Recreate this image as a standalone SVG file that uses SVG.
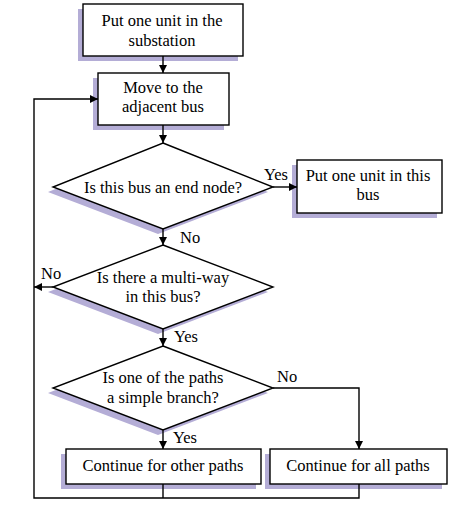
<svg xmlns="http://www.w3.org/2000/svg" width="474" height="521" viewBox="0 0 474 521">
<style>
.box{fill:#fff;stroke:#000;stroke-width:1.4}
.sh{fill:#b4add6}
text{font-family:'Liberation Serif','Times New Roman',Times,serif;font-size:16.5px;fill:#000}
.t{text-anchor:middle}
.c{fill:none;stroke:#000;stroke-width:1.4}
</style>
<defs>
<marker id="ah" viewBox="0 0 10 10" refX="10" refY="5" markerWidth="8" markerHeight="8" markerUnits="userSpaceOnUse" orient="auto">
<path d="M0,0 L10,5 L0,10 z" fill="#000"/>
</marker>
</defs>
<rect width="474" height="521" fill="#fff"/>
<g id="n1">
<rect class="sh" x="78" y="9" width="160" height="52"/>
<rect class="box" x="83" y="4" width="160" height="52"/>
<text class="t" x="162" y="26">Put one unit in the</text>
<text class="t" x="162" y="46">substation</text>
</g>
<g id="n2">
<rect class="sh" x="93" y="78" width="131" height="52"/>
<rect class="box" x="98" y="73" width="131" height="52"/>
<text class="t" x="163" y="93">Move to the</text>
<text class="t" x="163" y="112">adjacent bus</text>
</g>
<g id="d1">
<polygon class="sh" points="158,148 268,192 158,234 48,192"/>
<polygon class="box" points="163,143 273,187 163,229 53,187"/>
<text class="t" x="163" y="193">Is this bus an end node?</text>
</g>
<g id="n3">
<rect class="sh" x="292" y="165" width="145" height="53"/>
<rect class="box" x="297" y="160" width="145" height="53"/>
<text class="t" x="368" y="181">Put one unit in this</text>
<text class="t" x="368" y="200">bus</text>
</g>
<g id="d2">
<polygon class="sh" points="158,250 268,292 158,334 48,292"/>
<polygon class="box" points="163,245 273,287 163,329 53,287"/>
<text class="t" x="163" y="283">Is there a multi-way</text>
<text class="t" x="163" y="302">in this bus?</text>
</g>
<g id="d3">
<polygon class="sh" points="158,351 268,393 158,435 48,393"/>
<polygon class="box" points="163,346 273,388 163,430 53,388"/>
<text class="t" x="163" y="383">Is one of the paths</text>
<text class="t" x="163" y="403">a simple branch?</text>
</g>
<g id="n4">
<rect class="sh" x="61" y="454" width="195" height="35"/>
<rect class="box" x="66" y="449" width="195" height="35"/>
<text class="t" x="163" y="471">Continue for other paths</text>
</g>
<g id="n5">
<rect class="sh" x="265" y="454" width="177" height="35"/>
<rect class="box" x="270" y="449" width="177" height="35"/>
<text class="t" x="358" y="471">Continue for all paths</text>
</g>
<g id="connectors">
<line class="c" x1="163" y1="56" x2="163" y2="73" marker-end="url(#ah)"/>
<line class="c" x1="163" y1="125" x2="163" y2="143" marker-end="url(#ah)"/>
<line class="c" x1="273" y1="187" x2="297" y2="187" marker-end="url(#ah)"/>
<line class="c" x1="163" y1="229" x2="163" y2="245" marker-end="url(#ah)"/>
<line class="c" x1="53" y1="287" x2="34" y2="287" marker-end="url(#ah)"/>
<line class="c" x1="163" y1="329" x2="163" y2="346" marker-end="url(#ah)"/>
<polyline class="c" points="273,388 359,388 359,449" marker-end="url(#ah)"/>
<line class="c" x1="163" y1="430" x2="163" y2="449" marker-end="url(#ah)"/>
<polyline class="c" points="163,484 163,498"/>
<polyline class="c" points="359,484 359,498 34,498 34,99 98,99" marker-end="url(#ah)"/>
<text x="264" y="180">Yes</text>
<text x="180" y="243">No</text>
<text x="41" y="279">No</text>
<text x="174" y="342">Yes</text>
<text x="277" y="382">No</text>
<text x="173" y="443">Yes</text>
</g>
</svg>
